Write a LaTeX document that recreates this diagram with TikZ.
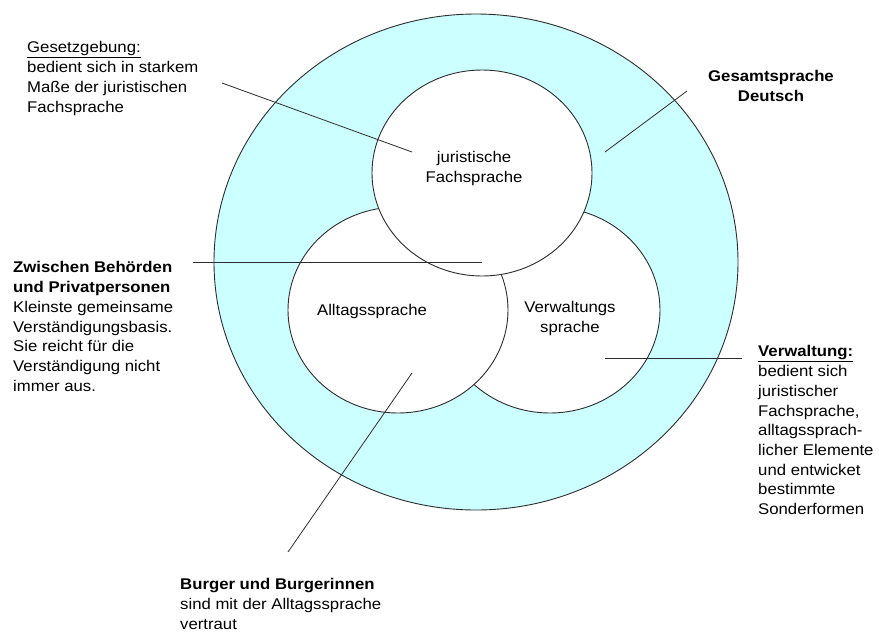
\documentclass[tikz,border=0pt]{standalone}
\usepackage{fontspec}
\setmainfont{Liberation Sans}[FakeStretch=1.08]
\usetikzlibrary{shapes.geometric}
\definecolor{ringcyan}{RGB}{204,255,255}
\definecolor{linegray}{RGB}{45,45,45}
\tikzset{
  sprache/.style={draw=linegray,line width=0.9pt,ellipse,inner sep=0pt,minimum width=220pt,minimum height=206pt,fill=white},
  leader/.style={draw=linegray,line width=0.8pt},
  info/.style={inner sep=0pt,align=left,anchor=north west},
  innen/.style={inner sep=0pt,align=center}
}
\begin{document}
\begin{tikzpicture}[x=1pt,y=-1pt,font=\fontsize{15.5}{19.7}\selectfont]
\useasboundingbox (0,0) rectangle (879,633);
% Ring und drei Kreise
\node[sprache,fill=ringcyan,minimum width=524pt,minimum height=496pt](gesamt) at (476,262){};
\node[sprache](verw) at (550,310){};
\node[sprache](alltag) at (398,310){};
\node[sprache](jur) at (482,173){};
\node[innen,anchor=north](jurtext) at (474,151.5){juristische\\Fachsprache};
\node[innen,anchor=base](alltagtext) at (372,315){Alltagssprache};
\node[innen,anchor=north](verwtext) at (570,301.5){Verwaltungs\\sprache};
% Beschriftungen
\node[info](gesetz) at (27,41.5){\underline{Gesetzgebung:}\\bedient sich in starkem\\Maße der juristischen\\Fachsprache};
\node[innen,anchor=north,font=\fontsize{15.5}{19.7}\selectfont\bfseries](deutsch) at (771,70.5){Gesamtsprache\\Deutsch};
\node[info](zwischen) at (13,261.5){\textbf{Zwischen Behörden}\\\textbf{und Privatpersonen}\\Kleinste gemeinsame\\Verständigungsbasis.\\Sie reicht für die\\Verständigung nicht\\immer aus.};
\node[info](verwaltung) at (758,345.5){\textbf{\underline{Verwaltung:}}\\bedient sich\\juristischer\\Fachsprache,\\alltagssprach-\\licher Elemente\\und entwicket\\bestimmte\\Sonderformen};
\node[info](buerger) at (180,578.5){\textbf{Burger und Burgerinnen}\\sind mit der Alltagssprache\\vertraut};
% Hinweislinien
\coordinate(g1) at (222,83); \coordinate(g2) at (412,152);
\coordinate(d1) at (687,91); \coordinate(d2) at (605,152);
\coordinate(z1) at (193,262); \coordinate(z2) at (482,262);
\coordinate(v1) at (742,358); \coordinate(v2) at (605,358);
\coordinate(b1) at (288,552); \coordinate(b2) at (412,373);
\draw[leader](g1)--(g2);
\draw[leader](d1)--(d2);
\draw[leader](z1)--(z2);
\draw[leader](v1)--(v2);
\draw[leader](b1)--(b2);
\end{tikzpicture}
\end{document}
